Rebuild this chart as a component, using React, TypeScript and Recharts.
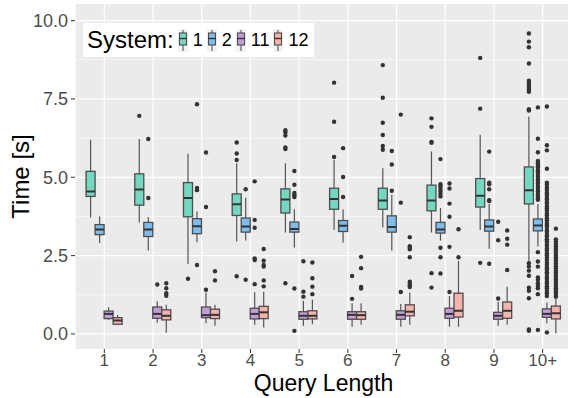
import { ComposedChart, Bar, XAxis, YAxis, CartesianGrid, Legend } from "recharts"

const FONT = "'Liberation Sans', Arial, Helvetica, sans-serif"

const categories = ["1", "2", "3", "4", "5", "6", "7", "8", "9", "10+"]
const systemNames = ["1", "2", "11", "12"]
const systemColors = ["#74D8C0", "#7EBDEB", "#C59CDA", "#F6B3AB"]
const yTicks = [0, 2.5, 5, 7.5, 10]
const yMinorTicks = [1.25, 3.75, 6.25, 8.75]

// [lower whisker, q1, median, q3, upper whisker] per query length
const sys1Stats = [
  [3.72, 4.39, 4.55, 5.19, 6.2],
  [3.56, 4.11, 4.61, 5.11, 6.22],
  [2.23, 3.74, 4.34, 4.83, 5.75],
  [2.95, 3.78, 4.14, 4.47, 5.45],
  [3.24, 3.86, 4.29, 4.63, 5.45],
  [3.32, 3.98, 4.31, 4.65, 5.56],
  [3.4, 3.98, 4.26, 4.65, 5.29],
  [3.24, 3.93, 4.26, 4.75, 5.82],
  [3.32, 4.05, 4.41, 4.96, 6.36],
  [2.31, 4.15, 4.59, 5.33, 6.94],
]
const sys2Stats = [
  [2.9, 3.17, 3.33, 3.49, 3.75],
  [2.66, 3.11, 3.33, 3.56, 3.73],
  [2.93, 3.2, 3.44, 3.68, 3.91],
  [2.98, 3.25, 3.43, 3.7, 4.35],
  [2.76, 3.25, 3.35, 3.57, 3.98],
  [2.92, 3.27, 3.45, 3.62, 3.97],
  [2.66, 3.25, 3.41, 3.77, 4.44],
  [2.98, 3.22, 3.33, 3.56, 4.02],
  [2.72, 3.28, 3.43, 3.64, 4.15],
  [2.79, 3.29, 3.46, 3.67, 4.15],
]
const sys11Stats = [
  [0.45, 0.49, 0.64, 0.73, 0.85],
  [0.36, 0.5, 0.64, 0.86, 1.04],
  [0.34, 0.52, 0.6, 0.86, 1.32],
  [0.29, 0.48, 0.64, 0.82, 1.33],
  [0.26, 0.47, 0.58, 0.71, 1.06],
  [0.23, 0.47, 0.61, 0.71, 0.98],
  [0.23, 0.47, 0.61, 0.74, 0.96],
  [0.23, 0.5, 0.64, 0.82, 1.21],
  [0.26, 0.47, 0.58, 0.69, 1.03],
  [0.34, 0.53, 0.64, 0.8, 1.0],
]
const sys12Stats = [
  [0.29, 0.31, 0.43, 0.52, 0.61],
  [0.04, 0.45, 0.58, 0.77, 0.93],
  [0.26, 0.49, 0.61, 0.79, 0.93],
  [0.21, 0.49, 0.69, 0.88, 1.35],
  [0.31, 0.48, 0.58, 0.74, 1.09],
  [0.29, 0.47, 0.6, 0.71, 0.98],
  [0.29, 0.58, 0.71, 0.93, 1.32],
  [0.23, 0.54, 0.74, 1.3, 2.33],
  [0.29, 0.5, 0.74, 1.02, 1.51],
  [0.02, 0.48, 0.66, 0.89, 1.14],
]

const sys1Outliers = [
  [],
  [6.96],
  [1.76],
  [6.11, 5.76, 5.55, 1.84],
  [6.5, 6.44, 6.33, 5.95, 5.9, 1.62],
  [8.02, 6.77, 5.65],
  [8.58, 7.54, 6.74, 6.35, 6.0, 5.88],
  [6.88, 6.61, 6.13, 6.1, 1.94, 1.48],
  [8.81, 7.19, 2.27],
  [9.59, 9.33, 9.15, 8.63, 8.08, 8.01, 7.94, 7.86, 7.8, 7.73, 7.17, 7.13, 2.26, 2.15, 2.02, 1.86, 1.48, 1.38, 1.14, 0.14, 0.1],
]
const sys2Outliers = [
  [],
  [6.22, 4.34],
  [7.33, 4.66, 4.59, 2.2],
  [4.62, 1.73],
  [5.2, 4.76, 4.5, 4.43, 4.37, 1.45, 0.1],
  [5.93, 5.01, 4.37],
  [5.84, 5.41, 4.57],
  [5.58, 4.78, 4.71, 4.63, 4.55, 4.47, 4.39, 2.75, 2.45, 1.93],
  [5.82, 4.83, 4.78, 4.62, 4.27, 4.24, 2.24],
  [7.23, 6.23, 5.8, 5.52, 5.45, 5.37, 5.31, 5.22, 5.16, 5.07, 5.01, 4.93, 4.85, 4.79, 4.7, 4.63, 4.55, 4.47, 4.41, 4.33, 4.28,
    2.61, 2.31, 2.15, 1.8, 1.73, 1.62, 1.53, 1.46, 1.27, 0.13],
]
const sys11Outliers = [
  [],
  [1.58],
  [5.79, 4.05, 1.41],
  [4.87, 3.64, 3.39, 2.41, 2.36, 1.59],
  [2.32, 1.35, 1.19],
  [1.85, 1.12],
  [7.0, 4.19, 1.34],
  [4.8, 4.64, 4.16, 3.74, 2.78, 1.34],
  [3.58, 2.99, 1.13],
  [7.26, 6.02, 5.86, 5.27, 4.83, 4.76, 4.67, 4.6, 4.51, 4.45, 4.37, 4.3, 4.21, 4.16, 4.07, 4.0, 3.93, 3.84, 3.78, 3.69, 3.63,
    3.54, 3.47, 3.41, 3.32, 3.26, 3.17, 3.11, 3.02, 2.96, 2.87, 2.81, 2.72, 2.66, 2.57, 2.51, 2.43, 2.36, 2.27, 2.21, 2.12,
    2.06, 1.97, 1.91, 1.82, 1.76, 1.67, 1.61, 1.52, 1.46, 1.37, 1.3, 1.21, 0.05],
]
const sys12Outliers = [
  [],
  [1.62, 1.46, 1.3, 1.22],
  [2.0, 1.71],
  [2.71, 2.34, 2.2, 2.15, 1.71, 1.52],
  [2.28, 1.78, 1.51, 1.27],
  [2.46, 2.1, 1.5, 1.45],
  [3.09, 2.8, 2.75, 2.7, 2.45, 1.67, 1.61, 1.55, 1.5],
  [3.34, 2.45],
  [3.3, 3.04, 2.85, 2.04],
  [3.36, 3.02, 2.94, 2.87, 2.8, 2.72, 2.66, 2.58, 2.51, 2.45, 2.37, 2.3, 2.24, 2.16, 2.1, 2.02, 1.95, 1.88, 1.82, 1.74,
    1.67, 1.6, 1.53, 1.46, 1.39, 1.32, 1.25, 1.19],
]

const allStats = [sys1Stats, sys2Stats, sys11Stats, sys12Stats]
const allOutliers = [sys1Outliers, sys2Outliers, sys11Outliers, sys12Outliers]

const data = categories.map((cat, i) => ({
  cat,
  stats: allStats.map((s) => s[i]),
  outliers: allOutliers.map((o) => o[i]),
}))

// box + whiskers + median + outliers, all scaled off the bar's own q1..q3 pixels
function BoxShape(props: any) {
  const { x, y, width, height, payload, sys } = props
  const [lo, q1, med, q3, hi] = payload.stats[sys]
  const top = Math.min(y, y + height)
  const h = Math.abs(height)
  const k = h / (q3 - q1)
  const toY = (v: number) => top + (q3 - v) * k
  const cx = x + width / 2
  return (
    <g>
      <line x1={cx} x2={cx} y1={toY(hi)} y2={top} stroke="#555" strokeWidth={1.2} />
      <line x1={cx} x2={cx} y1={top + h} y2={toY(lo)} stroke="#555" strokeWidth={1.2} />
      <rect x={x} y={top} width={width} height={h} fill={systemColors[sys]} stroke="#4d4d4d" strokeWidth={1.3} />
      <line x1={x} x2={x + width} y1={toY(med)} y2={toY(med)} stroke="#333" strokeWidth={2} />
      {payload.outliers[sys].map((v: number, j: number) => (
        <circle key={j} cx={cx} cy={toY(v)} r={2.2} fill="#333" />
      ))}
    </g>
  )
}

function LegendKey({ color }: { color: string }) {
  return (
    <svg width={10} height={23} style={{ display: "block" }}>
      <rect x={0} y={0} width={10} height={23} fill="#F2F2F2" />
      <line x1={5} x2={5} y1={1} y2={22} stroke="#555" strokeWidth={1.1} />
      <rect x={1.5} y={4} width={7} height={12} fill={color} stroke="#4d4d4d" strokeWidth={1.1} />
      <line x1={1.5} x2={8.5} y1={9.5} y2={9.5} stroke="#333" strokeWidth={1.4} />
    </svg>
  )
}

function SystemLegend() {
  return (
    <div
      style={{
        background: "#fff",
        display: "flex",
        alignItems: "center",
        height: 34,
        padding: "0 2px 0 4px",
        fontFamily: FONT,
        color: "#000",
      }}
    >
      <span style={{ fontSize: 24, marginRight: 4 }}>System:</span>
      {systemNames.map((name, i) => (
        <div key={name} style={{ display: "flex", alignItems: "center", marginRight: 4 }}>
          <LegendKey color={systemColors[i]} />
          <span style={{ fontSize: 18, marginLeft: 5 }}>{name}</span>
        </div>
      ))}
    </div>
  )
}

export default function App() {
  return (
    <div style={{ position: "fixed", left: 0, top: 0, width: 568, height: 398, overflow: "hidden", background: "#fff" }}>
      <ComposedChart
        width={572}
        height={398}
        data={data}
        margin={{ top: 4, right: 0, bottom: 0, left: 0 }}
        barCategoryGap="12.5%"
        barGap={0}
      >
        <CartesianGrid fill="#EBEBEB" stroke="#fff" strokeWidth={0.6} vertical={false} horizontalValues={yMinorTicks} />
        <CartesianGrid stroke="#fff" strokeWidth={1.2} horizontalValues={yTicks} />
        <XAxis
          dataKey="cat"
          height={49}
          padding={{ left: 5, right: 5 }}
          axisLine={false}
          tickSize={4}
          tickMargin={1}
          tickLine={{ stroke: "#333" }}
          tick={{ fill: "#4D4D4D", fontSize: 17, fontFamily: FONT }}
          label={{
            content: ({ viewBox }: any) => (
              <text
                x={viewBox.x + viewBox.width / 2}
                y={viewBox.y + 42}
                textAnchor="middle"
                fontSize={23}
                fontFamily={FONT}
                fill="#000"
              >
                Query Length
              </text>
            ),
          }}
        />
        <YAxis
          type="number"
          domain={[-0.48, 10.53]}
          ticks={yTicks}
          allowDataOverflow
          width={75}
          axisLine={false}
          tickSize={4}
          tickMargin={3}
          tickLine={{ stroke: "#333" }}
          tickFormatter={(v: number) => v.toFixed(1)}
          tick={{ fill: "#4D4D4D", fontSize: 18, fontFamily: FONT }}
          label={{
            content: ({ viewBox }: any) => {
              const cx = 20
              const cy = viewBox.y + viewBox.height / 2
              return (
                <text
                  x={cx}
                  y={cy}
                  transform={`rotate(-90, ${cx}, ${cy})`}
                  textAnchor="middle"
                  dominantBaseline="central"
                  fontSize={24}
                  fontFamily={FONT}
                  fill="#000"
                >
                  Time [s]
                </text>
              )
            },
          }}
        />
        <Legend
          verticalAlign="middle"
          align="center"
          content={() => <SystemLegend />}
          wrapperStyle={{ left: 83, top: 23, width: "auto", height: "auto" }}
        />
        {systemNames.map((name, s) => (
          <Bar
            key={name}
            name={name}
            dataKey={(d: any) => [d.stats[s][1], d.stats[s][3]]}
            fill={systemColors[s]}
            isAnimationActive={false}
            shape={(p: any) => <BoxShape {...p} sys={s} />}
          />
        ))}
      </ComposedChart>
    </div>
  )
}
